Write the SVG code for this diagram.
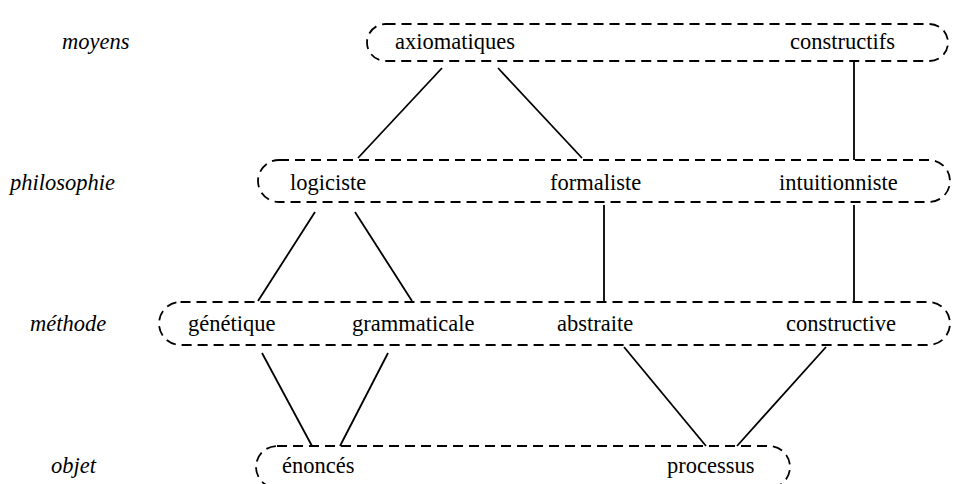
<svg xmlns="http://www.w3.org/2000/svg" width="954" height="484" viewBox="0 0 954 484">
<style>
.box{fill:none;stroke:#000;stroke-width:1.8;stroke-dasharray:10 6}
.t{font-size:22.5px;fill:#000}
.lbl{font-size:22.5px;font-style:italic;fill:#000}
.c line{stroke:#000;stroke-width:1.8}
</style>
<rect width="954" height="484" fill="#fff"/>
<g font-family="'Liberation Serif', 'DejaVu Serif', serif">
<g id="labels">
<text class="lbl" x="62" y="49">moyens</text>
<text class="lbl" x="10" y="190">philosophie</text>
<text class="lbl" x="30" y="331">méthode</text>
<text class="lbl" x="51" y="473">objet</text>
</g>
<g id="row-moyens">
<rect class="box" x="367" y="24" width="581" height="37" rx="18.5"/>
<g id="axiomatiques"><text class="t" x="395" y="49">axiomatiques</text></g>
<g id="constructifs"><text class="t" x="790" y="49">constructifs</text></g>
</g>
<g id="row-philosophie">
<rect class="box" x="258" y="160" width="692" height="42" rx="21"/>
<g id="logiciste"><text class="t" x="290" y="190">logiciste</text></g>
<g id="formaliste"><text class="t" x="550" y="190">formaliste</text></g>
<g id="intuitionniste"><text class="t" x="779" y="190">intuitionniste</text></g>
</g>
<g id="row-methode">
<rect class="box" x="159" y="302" width="791" height="43" rx="21.5"/>
<g id="genetique"><text class="t" x="188" y="331">génétique</text></g>
<g id="grammaticale"><text class="t" x="352" y="331">grammaticale</text></g>
<g id="abstraite"><text class="t" x="557" y="331">abstraite</text></g>
<g id="constructive"><text class="t" x="786" y="331">constructive</text></g>
</g>
<g id="row-objet">
<rect class="box" x="256" y="446" width="534" height="42" rx="21"/>
<g id="enonces"><text class="t" x="282" y="473">énoncés</text></g>
<g id="processus"><text class="t" x="667" y="473">processus</text></g>
</g>
</g>
<g id="connectors" class="c">
<line x1="442" y1="68" x2="358" y2="158"/>
<line x1="498" y1="68" x2="582" y2="158"/>
<line x1="854" y1="62" x2="854" y2="160"/>
<line x1="315" y1="212" x2="258" y2="301"/>
<line x1="355" y1="212" x2="412" y2="301"/>
<line x1="604" y1="205" x2="604" y2="301"/>
<line x1="854" y1="205" x2="854" y2="301"/>
<line x1="262" y1="353" x2="312" y2="446"/>
<line x1="388" y1="353" x2="340" y2="446"/>
<line x1="624" y1="347" x2="706" y2="446"/>
<line x1="826" y1="347" x2="737" y2="446"/>
</g>
</svg>
